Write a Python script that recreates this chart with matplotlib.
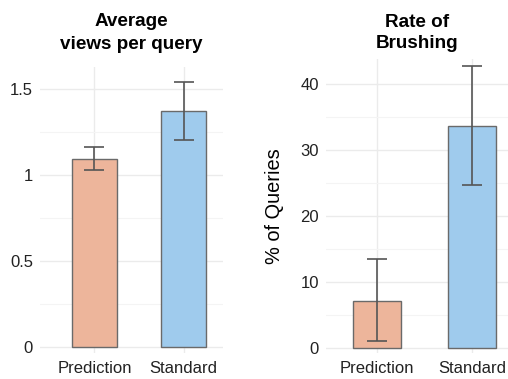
import matplotlib.pyplot as plt
import numpy as np

plt.rcParams['font.family'] = ['Liberation Sans', 'DejaVu Sans']

# data
groups = ["Prediction", "Standard"]
colors = ["#EDB59B", "#9FCBED"]

views = [1.09, 1.372]
views_lo = [1.025, 1.20]
views_hi = [1.16, 1.54]

brush = [7.2, 33.55]
brush_lo = [1.15, 24.65]
brush_hi = [13.5, 42.6]

fig = plt.figure(figsize=(5.08, 3.79), dpi=100)
W, H = 508, 379


def panel(left, right, top, bottom):
    return fig.add_axes([left / W, 1 - bottom / H, (right - left) / W, (bottom - top) / H])


def style(ax, major, minor, ylim, labels):
    ax.set_facecolor("white")
    for s in ax.spines.values():
        s.set_visible(False)
    ax.set_ylim(*ylim)
    ax.set_yticks(major)
    ax.set_yticklabels(labels)
    ax.set_yticks(minor, minor=True)
    ax.set_xticks(range(len(groups)))
    ax.set_xticklabels(groups)
    ax.grid(True, which="major", color="#ebebeb", lw=1.0)
    ax.grid(True, which="minor", axis="y", color="#f4f4f4", lw=0.8)
    ax.set_axisbelow(True)
    ax.tick_params(which="both", length=0, labelsize=12, colors="#222222")
    ax.tick_params(axis="y", pad=5)
    ax.tick_params(axis="x", pad=6)


x = np.arange(len(groups))

# left panel
ax1 = panel(40, 223, 67, 353)
ax1.bar(x, views, width=0.5, color=colors, edgecolor="#6a6a6a", lw=1.0)
ax1.errorbar(x, views, yerr=[np.array(views) - views_lo, np.array(views_hi) - views],
             fmt="none", ecolor="#555555", elinewidth=1.2, capsize=7, capthick=1.2)
ax1.set_xlim(-0.61, 1.44)
style(ax1, [0, 0.5, 1, 1.5], [0.25, 0.75, 1.25], (-0.036, 1.625), ["0", "0.5", "1", "1.5"])
ax1.set_title("Average\nviews per query", fontsize=13.6, fontweight="bold", pad=13, linespacing=1.45)

# right panel
ax2 = panel(326, 508, 59, 353)
ax2.bar(x, brush, width=0.51, color=colors, edgecolor="#6a6a6a", lw=1.0)
ax2.errorbar(x, brush, yerr=[np.array(brush) - brush_lo, np.array(brush_hi) - brush],
             fmt="none", ecolor="#555555", elinewidth=1.2, capsize=7, capthick=1.2)
ax2.set_xlim(-0.54, 1.38)
style(ax2, [0, 10, 20, 30, 40], [5, 15, 25, 35], (-0.7, 43.7), ["0", "10", "20", "30", "40"])
ax2.set_ylabel("% of Queries", fontsize=14.4, labelpad=12)
ax2.set_title("Rate of\nBrushing", fontsize=13.6, fontweight="bold", pad=8, linespacing=1.3)

fig.savefig("out.png", dpi=100)
